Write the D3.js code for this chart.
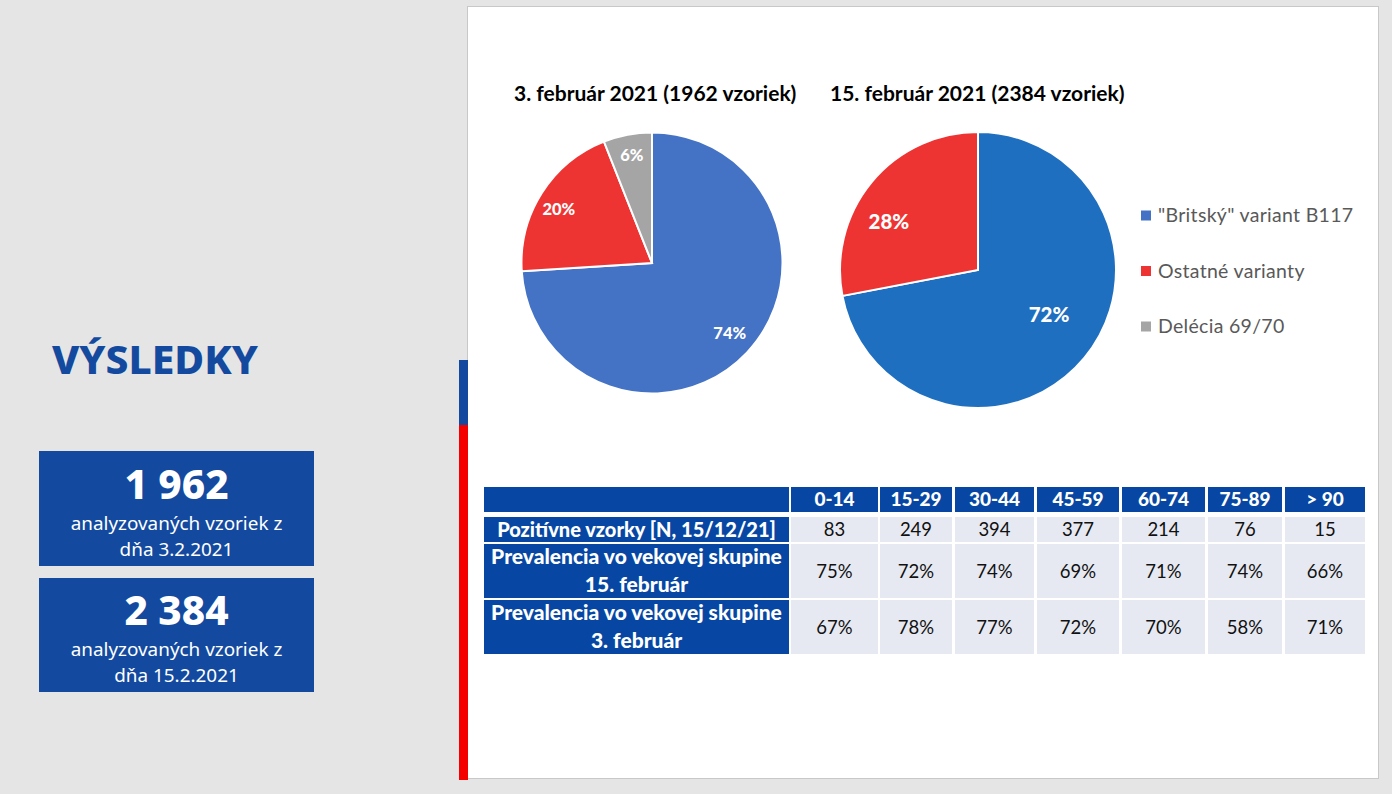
<!DOCTYPE html>
<html lang="sk">
<head>
  <meta charset="UTF-8">
  <title>Výsledky</title>
  <script src="https://d3js.org/d3.v7.min.js"></script>
  <style>
    body { margin: 0; background: #e6e6e6; overflow: hidden; }
    svg { display: block; }
    .side { font-family: "Noto Sans", sans-serif; fill: #fff; text-anchor: middle; }
    .cal { font-family: Lato, sans-serif; }
    .cell { font-family: Lato, sans-serif; text-anchor: middle; dominant-baseline: middle; }
  </style>
</head>
<body>
<svg width="1392" height="794"></svg>
<script>
const variants = ['"Britský" variant B117', "Ostatné varianty", "Delécia 69/70"];
const febThird = [74, 20, 6];
const febFifteenth = [72, 28];
const titleThird = "3. február 2021 (1962 vzoriek)";
const titleFifteenth = "15. február 2021 (2384 vzoriek)";

const ageGroups = ["0-14", "15-29", "30-44", "45-59", "60-74", "75-89", "> 90"];
const rowLabels = [
  ["Pozitívne vzorky [N, 15/12/21]"],
  ["Prevalencia vo vekovej skupine", "15. február"],
  ["Prevalencia vo vekovej skupine", "3. február"]
];
const positives = [83, 249, 394, 377, 214, 76, 15];
const prevFeb15 = ["75%", "72%", "74%", "69%", "71%", "74%", "66%"];
const prevFeb3 = ["67%", "78%", "77%", "72%", "70%", "58%", "71%"];

const blueDark = "#134a9f";
const tableBlue = "#0747a3";

const svg = d3.select("svg");

// page background, white slide area and the side bars
svg.append("rect").attr("width", 1392).attr("height", 794).attr("fill", "#e5e5e5");
svg.append("rect").attr("x", 467.5).attr("y", 6.5).attr("width", 911).attr("height", 772)
  .attr("fill", "#fff").attr("stroke", "#c8c8c8");
svg.append("rect").attr("x", 459).attr("y", 360).attr("width", 9).attr("height", 65).attr("fill", blueDark);
svg.append("rect").attr("x", 459).attr("y", 425).attr("width", 9).attr("height", 355).attr("fill", "#f40000");

// left column
svg.append("text").attr("class", "side").attr("x", 155).attr("y", 374)
  .style("font-size", "40px").style("font-weight", 800).style("fill", blueDark)
  .attr("textLength", 206).attr("lengthAdjust", "spacingAndGlyphs").text("VÝSLEDKY");

const boxes = [
  { y: 451, h: 115, num: "1 962", l: "dňa 3.2.2021", shift: 0 },
  { y: 578, h: 114, num: "2 384", l: "dňa 15.2.2021", shift: -1 }
];
boxes.forEach(b => {
  svg.append("rect").attr("x", 39).attr("y", b.y).attr("width", 275).attr("height", b.h).attr("fill", blueDark);
  svg.append("text").attr("class", "side").attr("x", 176.5).attr("y", b.y + 48 + b.shift)
    .style("font-size", "40.5px").style("font-weight", 800).text(b.num);
  svg.append("text").attr("class", "side").attr("x", 176.5).attr("y", b.y + 79 + b.shift)
    .style("font-size", "18.9px").text("analyzovaných vzoriek z");
  svg.append("text").attr("class", "side").attr("x", 176.5).attr("y", b.y + 105 + b.shift)
    .style("font-size", "18.9px").text(b.l);
});

// pies
const colorThird = d3.scaleOrdinal().domain(variants).range(["#4472c4", "#ee3433", "#a5a5a5"]);
const colorFifteenth = d3.scaleOrdinal().domain(variants).range(["#1f6fc0", "#ee3433"]);

function drawPie(values, cx, cy, r, color, fontSize, labelRadius, nudges) {
  const arcs = d3.pie().sort(null)(values);
  const arc = d3.arc().innerRadius(0).outerRadius(r);
  const labelArc = d3.arc().innerRadius(labelRadius).outerRadius(labelRadius);
  const g = svg.append("g").attr("transform", `translate(${cx},${cy})`);
  g.selectAll("path").data(arcs).join("path")
    .attr("d", arc)
    .attr("fill", (d, i) => color(variants[i]))
    .attr("stroke", "#fff")
    .attr("stroke-width", 2);
  // labels sit at a fixed radius, then get pushed by hand like in the original
  g.selectAll("text").data(arcs).join("text")
    .attr("class", "cell")
    .attr("transform", (d, i) => {
      const [x, y] = labelArc.centroid(d);
      return `translate(${x + nudges[i][0]},${y + nudges[i][1]})`;
    })
    .style("font-size", fontSize + "px")
    .style("font-weight", 900)
    .style("fill", "#fff")
    .text(d => d.data + "%");
}

drawPie(febThird, 652, 263, 130.5, colorThird, 16.5, 108, [[-1, -2], [-2, 6], [0, 0]]);
drawPie(febFifteenth, 978, 270, 138, colorFifteenth, 20.5, 100, [[-6, -17], [-12, 17]]);

svg.append("text").attr("class", "cal").attr("x", 514).attr("y", 101)
  .style("font-size", "21px").style("font-weight", 700).text(titleThird);
svg.append("text").attr("class", "cal").attr("x", 830).attr("y", 101)
  .style("font-size", "21px").style("font-weight", 700).text(titleFifteenth);

// legend
const legendY = d3.scalePoint().domain(variants).range([215.5, 326.5]);
const legendColor = d3.scaleOrdinal().domain(variants).range(["#4472c4", "#ee3433", "#a5a5a5"]);
const legend = svg.append("g").selectAll("g").data(variants).join("g")
  .attr("transform", d => `translate(1141,${legendY(d)})`);
legend.append("rect").attr("y", -5).attr("width", 10).attr("height", 10).attr("fill", d => legendColor(d));
legend.append("text").attr("class", "cal").attr("x", 17).attr("y", 6.5)
  .style("font-size", "19.5px").style("fill", "#595959").style("letter-spacing", "0.3px").text(d => d);

// table
const colEdges = [[484, 789], [791, 878], [880, 952], [955, 1034], [1037, 1119], [1122, 1205], [1208, 1282], [1285, 1365]];
const rowEdges = [[487, 512], [517, 542], [544, 598], [600, 654]];
const tableRows = [ageGroups, positives, prevFeb15, prevFeb3];
const labelSizes = [20, 21, 21];

function cellText(x, y, txt, bold, white, size) {
  svg.append("text").attr("class", "cell").attr("x", x).attr("y", y)
    .style("font-size", size + "px")
    .style("font-weight", bold ? 900 : 400)
    .style("fill", white ? "#fff" : "#111")
    .text(txt);
}

tableRows.forEach((row, r) => {
  const [y0, y1] = rowEdges[r];
  const yMid = (y0 + y1) / 2 + 2;
  colEdges.forEach(([x0, x1], c) => {
    const head = r === 0 || c === 0;
    svg.append("rect").attr("x", x0).attr("y", y0).attr("width", x1 - x0).attr("height", y1 - y0)
      .attr("fill", head ? tableBlue : "#e6e9f1");
    if (c > 0) cellText((x0 + x1) / 2, yMid, row[c - 1], r === 0, r === 0, r === 0 ? 19 : 18.5);
  });
  if (r > 0) {
    const lines = rowLabels[r - 1];
    lines.forEach((t, i) => {
      const y = yMid + (i - (lines.length - 1) / 2) * 28;
      cellText((colEdges[0][0] + colEdges[0][1]) / 2, y, t, true, true, labelSizes[r - 1]);
    });
  }
});
</script>
</body>
</html>
